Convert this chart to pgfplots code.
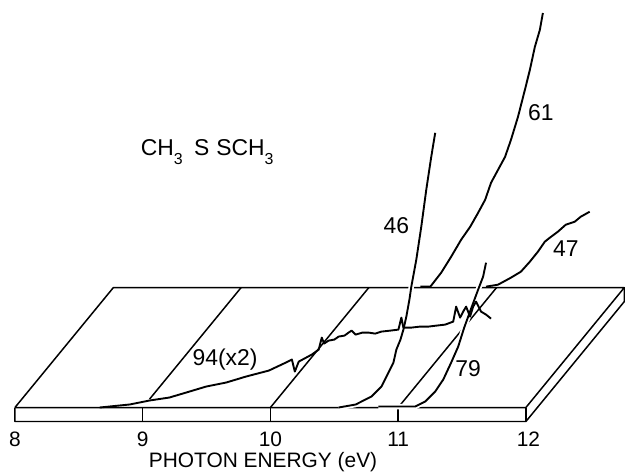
\documentclass[border=0pt]{standalone}
\usepackage{fontspec}
\setmainfont{Liberation Sans}
\usepackage{pgfplots}
\pgfplotsset{compat=1.18}

% depth of the back plane (in eV along x, in signal units along y)
\def\dx{0.77}
\def\dy{120}

\tikzset{
  slab/.style={line width=1.5pt},
  curve/.style={line width=1.9pt},
  halo/.style={preaction={draw=white,line width=5.5pt}},
  lab/.style={font=\fontsize{23}{26}\selectfont},
  tlab/.style={font=\fontsize{21}{24}\selectfont},
}

\begin{document}
\begin{tikzpicture}
\begin{axis}[
    width=625bp, height=475bp, scale only axis,
    xmin=7.883, xmax=12.77, ymin=-67, ymax=408,
    hide axis, clip=false,
    every axis plot/.append style={black, line join=round, mark=none},
]
% bounding box
\addplot[draw=none] coordinates {(7.883,-67) (12.77,408)};

% slab
\addplot[slab] coordinates {(8,0) (12,0) (12.77,120) (8.77,120) (8,0)};
\addplot[slab] coordinates {(8,0) (8,-14) (12,-14) (12.77,106) (12.77,120)};
\addplot[slab] coordinates {(12,0) (12,-14)};
\addplot[slab] coordinates {(9,0) (9,-14)};
\addplot[slab] coordinates {(10,0) (10,-14)};
\addplot[slab] coordinates {(11,0) (11,-14)};
% grid lines on the plane
\addplot[slab] coordinates {(9.054,8.4) (9.77,120)};
\addplot[slab] coordinates {(10,0) (10.77,120)};
\addplot[slab] coordinates {(11,0) (11.77,120)};

% m/e 61 (back plane)
\addplot[curve] table[x expr=\thisrowno{0}+\dx, y expr=\thisrowno{1}+\dy] {
E Y
10.404 1
10.482 1
10.567 15
10.645 31
10.723 48
10.794 61
10.856 75
10.911 88
10.957 105
11.012 118
11.067 131
11.113 148
11.168 171
11.222 198
11.261 218
11.300 241
11.339 258
11.363 275
};

% m/e 47 (back plane)
\addplot[curve] table[x expr=\thisrowno{0}+\dx, y expr=\thisrowno{1}+\dy] {
E Y
10.918 1
11.012 3
11.113 10
11.191 16
11.261 26
11.324 36
11.378 46
11.417 50
11.480 56
11.542 63
11.612 66
11.659 71
11.729 76
};

% m/e 46
\addplot[curve,halo] table {
E Y
10.534 0
10.667 3
10.791 11
10.869 21
10.924 35
10.963 45
10.986 58
11.018 68
11.041 78
11.064 91
11.088 108
11.103 121
11.142 148
11.181 181
11.220 218
11.259 251
11.290 275
};

% m/e 79
\addplot[curve,halo] table {
E Y
10.846 1
11.134 1
11.212 6
11.290 16
11.353 28
11.415 45
11.470 61
11.517 80
11.571 99
11.626 118
11.665 131
11.688 145
};

% m/e 94 (x2)
\addplot[curve] table {
E Y
8.663 0
8.897 3
9.053 7
9.209 10
9.341 15
9.497 21
9.653 25
9.809 31
9.988 37
10.121 45
10.168 48
10.191 36
10.222 46
10.324 53
10.378 58
10.402 70
10.420 64
10.456 67
10.500 68
10.534 71
10.580 72
10.612 75
10.635 77
10.667 73
10.720 75
10.768 75
10.820 74
10.869 76
10.940 77
11.002 78
11.025 90
11.041 80
11.103 80
11.170 81
11.236 81
11.300 82
11.368 83
11.431 86
11.454 101
11.485 90
11.509 96
11.532 101
11.563 91
11.587 101
11.610 106
11.649 96
11.688 93
11.727 89
};

% labels
\node[lab] at (axis cs:9.505,256) {CH\raisebox{-0.4em}{\fontsize{16}{16}\selectfont 3}\hspace{0.5em}S\hspace{0.3em}SCH\raisebox{-0.4em}{\fontsize{16}{16}\selectfont 3}};
\node[lab] at (axis cs:10.986,182) {46};
\node[lab] at (axis cs:12.117,295) {61};
\node[lab] at (axis cs:12.312,159) {47};
\node[lab] at (axis cs:11.548,39) {79};
\node[lab] at (axis cs:9.645,48) {94(x2)};

\node[tlab] at (axis cs:8,-32) {8};
\node[tlab] at (axis cs:9,-32) {9};
\node[tlab] at (axis cs:10,-32) {10};
\node[tlab] at (axis cs:11,-32) {11};
\node[tlab] at (axis cs:12.02,-32) {12};
\node[tlab] at (axis cs:9.942,-55) {PHOTON ENERGY (eV)};
\end{axis}
\end{tikzpicture}
\end{document}
